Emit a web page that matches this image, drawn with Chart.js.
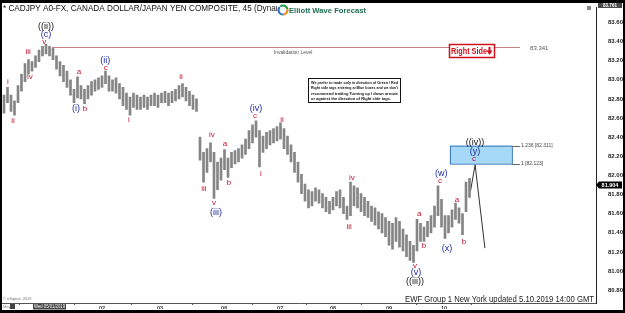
<!DOCTYPE html>
<html>
<head>
<meta charset="utf-8">
<script src="https://cdn.jsdelivr.net/npm/chart.js@4.4.1/dist/chart.umd.min.js"></script>
<style>
  html, body { margin: 0; padding: 0; background: #000; }
  #wrap { width: 625px; height: 313px; }
</style>
</head>
<body>
<div id="wrap"><canvas id="chart" width="625" height="313"></canvas></div>
<script>
// day labels on the time axis and the bar index where each day starts
const dayLabels = ['01', '02', '03', '06', '07', '08', '09', '10'];
const dayTicks = [12.3, 28, 44.6, 62.9, 78.9, 94, 110, 125.7];
const priceTicks = [80.8, 81.0, 81.2, 81.4, 81.6, 81.8, 82.0, 82.2, 82.4, 82.6, 82.8, 83.0, 83.2, 83.4, 83.6];

// 90-minute bars
const barHigh = [
  82.84, 82.92, 82.84, 82.78, 82.94, 83.06, 83.17, 83.21, 83.19, 83.25,
  83.31, 83.35, 83.37, 83.35, 83.33, 83.25, 83.19, 83.15, 83.09, 83.00,
  82.90, 83.03, 82.94, 82.90, 82.94, 82.98, 83.00, 83.02, 83.04, 83.09,
  83.04, 83.00, 83.02, 82.96, 82.92, 82.86, 82.82, 82.86, 82.84, 82.82,
  82.84, 82.82, 82.84, 82.86, 82.84, 82.86, 82.88, 82.86, 82.88, 82.90,
  82.94, 82.96, 82.92, 82.88, 82.84, 82.80, 82.40, 82.24, 82.28, 82.34,
  82.24, 82.14, 82.18, 82.27, 82.18, 82.24, 82.26, 82.28, 82.32, 82.38,
  82.47, 82.53, 82.57, 82.47, 82.41, 82.45, 82.47, 82.49, 82.51, 82.55,
  82.49, 82.41, 82.32, 82.24, 82.14, 82.01, 81.91, 81.85, 81.83, 81.87,
  81.85, 81.81, 81.77, 81.73, 81.77, 81.83, 81.85, 81.77, 81.68, 81.93,
  81.89, 81.87, 81.81, 81.77, 81.73, 81.68, 81.66, 81.62, 81.60, 81.56,
  81.52, 81.50, 81.56, 81.52, 81.44, 81.38, 81.31, 81.27, 81.54, 81.50,
  81.46, 81.52, 81.58, 81.68, 81.89, 81.75, 81.58, 81.58, 81.64, 81.71,
  81.66, 81.60, 81.93, 81.97
];
const barLow = [
  82.65, 82.76, 82.67, 82.63, 82.76, 82.88, 82.98, 83.06, 83.09, 83.13,
  83.19, 83.25, 83.27, 83.25, 83.21, 83.11, 83.04, 82.98, 82.92, 82.84,
  82.76, 82.81, 82.80, 82.75, 82.80, 82.84, 82.88, 82.90, 82.92, 82.96,
  82.88, 82.88, 82.86, 82.80, 82.73, 82.69, 82.63, 82.71, 82.69, 82.69,
  82.71, 82.69, 82.73, 82.73, 82.71, 82.76, 82.76, 82.73, 82.76, 82.78,
  82.80, 82.82, 82.78, 82.73, 82.69, 82.67, 82.16, 81.93, 82.03, 82.14,
  81.76, 81.85, 81.95, 82.06, 81.98, 82.08, 82.12, 82.14, 82.18, 82.22,
  82.28, 82.34, 82.40, 82.09, 82.24, 82.28, 82.32, 82.34, 82.36, 82.38,
  82.28, 82.22, 82.14, 82.03, 81.93, 81.81, 81.73, 81.66, 81.68, 81.73,
  81.71, 81.66, 81.62, 81.60, 81.64, 81.68, 81.66, 81.60, 81.54, 81.58,
  81.68, 81.66, 81.62, 81.58, 81.56, 81.52, 81.48, 81.44, 81.40, 81.36,
  81.27, 81.23, 81.31, 81.25, 81.21, 81.15, 81.11, 81.09, 81.21, 81.31,
  81.31, 81.36, 81.40, 81.46, 81.58, 81.46, 81.34, 81.40, 81.46, 81.54,
  81.50, 81.38, 81.62, 81.77
];

// projected path from the last bar
const projX = [133.3, 134.6, 137.4];
const projY = [81.84, 82.11, 81.24];

const invalidationLevel = 83.341;
const fibLow = 82.123;
const fibHigh = 82.311;
const lastPrice = 81.904;
const topPrice = 83.761;

const waveLabels = [
  { t: '((ii))', i: 12, p: 83.56, c: 'k' },
  { t: '(c)', i: 12, p: 83.47, c: 'b' },
  { t: 'v', i: 11.5, p: 83.40, c: 'r' },
  { t: 'iii', i: 6.9, p: 83.29, c: 'r' },
  { t: 'iv', i: 7.4, p: 83.03, c: 'r' },
  { t: 'i', i: 1.1, p: 82.98, c: 'r' },
  { t: 'ii', i: 2.6, p: 82.57, c: 'r' },
  { t: '(i)', i: -1.6, p: 82.53, c: 'b' },
  { t: 'a', i: 21.4, p: 83.08, c: 'r' },
  { t: '(i)', i: 20.6, p: 82.70, c: 'b' },
  { t: 'b', i: 23.1, p: 82.70, c: 'r' },
  { t: '(ii)', i: 28.9, p: 83.20, c: 'b' },
  { t: 'c', i: 29.1, p: 83.12, c: 'r' },
  { t: 'i', i: 35.7, p: 82.58, c: 'r' },
  { t: 'ii', i: 50.6, p: 83.03, c: 'r' },
  { t: 'iii', i: 57.1, p: 81.86, c: 'r' },
  { t: 'iv', i: 59.4, p: 82.42, c: 'r' },
  { t: 'v', i: 60, p: 81.71, c: 'r' },
  { t: '(iii)', i: 60.6, p: 81.61, c: 'b' },
  { t: 'a', i: 63.1, p: 82.33, c: 'r' },
  { t: 'b', i: 64.3, p: 81.92, c: 'r' },
  { t: '(iv)', i: 72, p: 82.70, c: 'b' },
  { t: 'c', i: 71.7, p: 82.62, c: 'r' },
  { t: 'i', i: 73.4, p: 82.02, c: 'r' },
  { t: 'ii', i: 79.4, p: 82.58, c: 'r' },
  { t: 'iii', i: 98.6, p: 81.46, c: 'r' },
  { t: 'iv', i: 99.4, p: 81.98, c: 'r' },
  { t: 'v', i: 117.4, p: 81.06, c: 'r' },
  { t: '(v)', i: 117.7, p: 80.98, c: 'b' },
  { t: '((iii))', i: 117.4, p: 80.89, c: 'k' },
  { t: 'a', i: 118.6, p: 81.60, c: 'r' },
  { t: 'b', i: 120, p: 81.26, c: 'r' },
  { t: '(w)', i: 124.9, p: 82.02, c: 'b' },
  { t: 'c', i: 124.6, p: 81.94, c: 'r' },
  { t: '(x)', i: 126.6, p: 81.24, c: 'b' },
  { t: 'a', i: 129.4, p: 81.75, c: 'r' },
  { t: 'b', i: 131.4, p: 81.31, c: 'r' },
  { t: '((iv))', i: 134.6, p: 82.34, c: 'k' },
  { t: '(y)', i: 134.6, p: 82.25, c: 'b' },
  { t: 'c', i: 134.3, p: 82.17, c: 'r' }
];

const noteLines = [
  'We prefer to trade only in direction of Green / Red',
  'Right side tags entering at Blue boxes and we don\'t',
  'recommend trading Turning up / down arrows',
  'or against the direction of Right side tags.'
];

const FONT = '"Liberation Sans", Arial, sans-serif';
const labelColors = { r: '#c8102e', b: '#1c2a9c', k: '#111' };

const overlay = {
  id: 'overlay',
  beforeDraw(chart) {
    const c = chart.ctx;
    c.save();
    c.fillStyle = '#fff';
    c.fillRect(0, 0, chart.width, chart.height);
    c.restore();
  },
  afterDatasetsDraw(chart) {
    const c = chart.ctx;
    const xs = chart.scales.x, ys = chart.scales.y, a = chart.chartArea;
    const X = v => xs.getPixelForValue(v);
    const Y = v => ys.getPixelForValue(v);
    c.save();

    // invalidation level
    const yi = Math.round(Y(invalidationLevel)) + 0.5;
    c.strokeStyle = '#c98080';
    c.lineWidth = 1;
    c.beginPath(); c.moveTo(X(13.7), yi); c.lineTo(X(147.4), yi); c.stroke();
    c.fillStyle = '#555';
    c.font = '6px ' + FONT;
    c.textBaseline = 'middle';
    c.fillText(invalidationLevel.toFixed(3), X(150.3), yi + 1);
    c.font = '5px ' + FONT;
    c.textAlign = 'center';
    c.fillText('Invalidation Level', X(82.6), Y(83.285));

    // blue box between the fib levels
    const bx0 = X(127.4), bx1 = X(145.1), by0 = Y(fibHigh), by1 = Y(fibLow);
    c.fillStyle = '#a6d8f7';
    c.fillRect(bx0, by0, bx1 - bx0, by1 - by0);
    c.strokeStyle = '#3a78b8';
    c.strokeRect(bx0 + 0.5, by0 + 0.5, bx1 - bx0, by1 - by0);
    c.strokeStyle = '#666';
    c.beginPath();
    c.moveTo(bx1, Math.round(by0) + 0.5); c.lineTo(X(147.4), Math.round(by0) + 0.5);
    c.moveTo(bx1, Math.round(by1) + 0.5); c.lineTo(X(147.4), Math.round(by1) + 0.5);
    c.stroke();
    c.fillStyle = '#444';
    c.font = '5px ' + FONT;
    c.textAlign = 'left';
    c.fillText('1.236 [' + fibHigh.toFixed(3) + ']', X(147.7), by0);
    c.fillText('1 [' + fibLow.toFixed(3) + ']', X(147.7), by1);

    // wave labels
    c.save();
    c.beginPath(); c.rect(a.left, a.top, a.right - a.left, a.bottom - a.top); c.clip();
    c.textAlign = 'center';
    c.textBaseline = 'middle';
    waveLabels.forEach(l => {
      c.fillStyle = labelColors[l.c];
      c.font = (l.c === 'r' ? '8px ' : '9px ') + FONT;
      c.fillText(l.t, X(l.i), Y(l.p));
    });
    c.restore();

    // Right Side tag
    c.fillStyle = '#fff';
    c.fillRect(449, 44, 46, 14);
    c.strokeStyle = '#d0101a';
    c.lineWidth = 1.5;
    c.strokeRect(449.5, 44.5, 45, 13);
    c.fillStyle = '#d0101a';
    c.font = 'bold 9px ' + FONT;
    c.textAlign = 'left';
    c.fillText('Right Side', 451, 51.5, 36);
    c.beginPath();
    c.moveTo(488.5, 47); c.lineTo(490.5, 47); c.lineTo(490.5, 50.5); c.lineTo(492.5, 50.5);
    c.lineTo(489.5, 55); c.lineTo(486.5, 50.5); c.lineTo(488.5, 50.5); c.closePath();
    c.fill();

    // note box
    c.fillStyle = '#fff';
    c.fillRect(308, 78, 93, 25);
    c.strokeStyle = '#111';
    c.lineWidth = 1;
    c.strokeRect(308.5, 78.5, 92, 24);
    c.fillStyle = '#111';
    c.font = 'bold 4px ' + FONT;
    noteLines.forEach((s, k) => c.fillText(s, 311, 83 + k * 5.3, 87));

    // footer text
    c.fillStyle = '#222';
    c.font = '9px ' + FONT;
    c.textBaseline = 'alphabetic';
    c.fillText('EWF Group 1 New York updated 5.10.2019 14:00 GMT', 405, 302, 189);
    c.fillStyle = '#777';
    c.font = '4px ' + FONT;
    c.fillText('\u00a9 eSignal, 2019', 3, 300);

    // title and logo
    const title = '* CADJPY A0-FX, CANADA DOLLAR/JAPAN YEN COMPOSITE, 45 (Dynamic)';
    c.font = '8px ' + FONT;
    const w = c.measureText('* CADJPY A0-FX, CANADA DOLLAR/JAPAN YEN COMPOSITE, 45 (Dyna').width;
    c.font = (8 * 273 / w).toFixed(2) + 'px ' + FONT;
    c.fillStyle = '#111';
    c.textBaseline = 'middle';
    c.fillText(title, 3, 9);
    c.fillStyle = '#fff';
    c.fillRect(277, 3, 95, 13);
    const lx = 283, ly = 10, lr = 4.5;
    c.lineWidth = 2.2;
    [['#2e9a47', -2.2, -0.2], ['#f08a1c', -0.2, 1.6], ['#2a6fc0', 1.6, 3.9]].forEach(s => {
      c.strokeStyle = s[0];
      c.beginPath(); c.arc(lx, ly, lr, s[1], s[2]); c.stroke();
    });
    c.fillStyle = '#1e6e55';
    c.font = 'bold 8px ' + FONT;
    c.fillText('Elliott Wave Forecast', 289, 10.5, 77);
    c.fillStyle = '#888';
    c.fillRect(587, 6, 4, 4);

    // axis highlights
    c.fillStyle = '#4a4a4a';
    c.fillRect(598, 3, 24, 5);
    c.fillStyle = '#fff';
    c.font = 'bold 4.5px ' + FONT;
    c.textAlign = 'center';
    c.fillText(topPrice.toFixed(3), 610, 5.7);
    const yp = Math.round(Y(lastPrice));
    c.fillStyle = '#000';
    c.beginPath();
    c.moveTo(596, yp); c.lineTo(599, yp - 3.5); c.lineTo(622, yp - 3.5);
    c.lineTo(622, yp + 3.5); c.lineTo(599, yp + 3.5); c.closePath(); c.fill();
    c.fillStyle = '#fff';
    c.font = 'bold 5.5px ' + FONT;
    c.fillText(lastPrice.toFixed(3), 610, yp + 0.3);

    c.fillStyle = '#444';
    c.fillRect(33, 304, 33, 5.5);
    c.fillStyle = '#fff';
    c.font = '4.5px ' + FONT;
    c.fillText('Wed 05/01/2019', 49.5, 307, 31);
    c.fillStyle = '#888';
    c.font = '4px ' + FONT;
    c.textAlign = 'left';
    c.fillText('May', 3, 307);
    c.fillStyle = '#444';
    c.fillRect(10, 304, 5, 5);
    c.restore();
  },
  afterDraw(chart) {
    const c = chart.ctx;
    c.save();
    c.fillStyle = '#000';
    c.fillRect(0, 0, 625, 3);
    c.fillRect(0, 0, 2, 313);
    c.fillRect(623, 0, 2, 313);
    c.fillRect(0, 310, 625, 3);
    c.restore();
  }
};

const ctx = document.getElementById('chart').getContext('2d');
new Chart(ctx, {
  type: 'bar',
  data: {
    datasets: [
      {
        type: 'bar',
        data: barHigh.map((h, i) => ({ x: i, y: [barLow[i], h] })),
        backgroundColor: '#858585',
        borderWidth: 0,
        barThickness: 2,
        grouped: false
      },
      {
        type: 'line',
        data: projX.map((x, i) => ({ x: x, y: projY[i] })),
        borderColor: '#333',
        borderWidth: 1,
        pointRadius: 0,
        tension: 0
      }
    ]
  },
  options: {
    responsive: false,
    animation: false,
    layout: { padding: { left: 2, top: 3, right: 2, bottom: 4 } },
    plugins: {
      legend: { display: false },
      tooltip: { enabled: false }
    },
    scales: {
      x: {
        type: 'linear',
        offset: false,
        min: -0.571,
        max: 169.14,
        afterBuildTicks: axis => { axis.ticks = dayTicks.map(v => ({ value: v })); },
        afterFit: axis => { axis.height = 6; },
        grid: { drawOnChartArea: false, tickLength: 2, color: '#555' },
        border: { display: true, color: '#555' },
        ticks: {
          autoSkip: false,
          maxRotation: 0,
          padding: 0,
          color: '#333',
          font: { family: FONT, size: 5.5, weight: 'bold' },
          callback: (v, i) => (i === 0 ? '' : dayLabels[i])
        }
      },
      y: {
        position: 'right',
        min: 80.666,
        max: 83.7545,
        afterBuildTicks: axis => { axis.ticks = priceTicks.map(v => ({ value: v })); },
        afterFit: axis => { axis.width = 27; },
        grid: { display: false },
        border: { display: true, color: '#222' },
        ticks: {
          padding: 4,
          color: '#222',
          font: { family: FONT, size: 6, weight: 'bold' },
          callback: v => v.toFixed(3)
        }
      }
    }
  },
  plugins: [overlay]
});
</script>
</body>
</html>
